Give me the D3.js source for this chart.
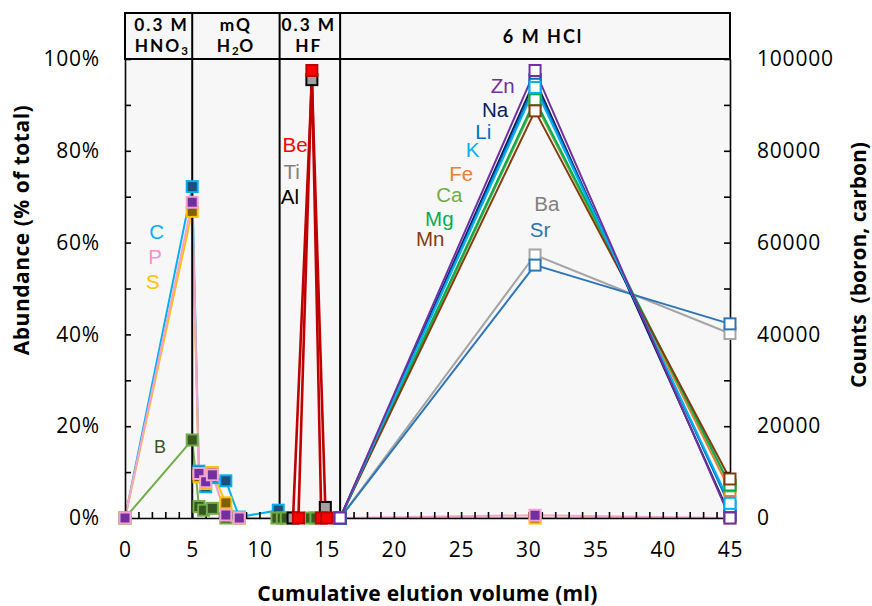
<!DOCTYPE html>
<html><head><meta charset="utf-8">
<script src="https://cdn.jsdelivr.net/npm/d3@7"></script>
<style>body{margin:0;background:#fff}svg{display:block}</style>
</head><body><svg id="c" width="872" height="606"></svg>
<script>
// ---------- data ----------
const xTickValues = [0,5,10,15,20,25,30,35,40,45];
const leftTickValues = [0,20,40,60,80,100];
const rightTickValues = [0,20000,40000,60000,80000,100000];
const fractionBounds = [0,5,11.5,16,45];

// carbon & boron on the counts axis
const carbonVol = [0,5,5.5,6,6.5,7.5,8.5,11.4];
const carbonCounts = [0,72200,10200,6800,8800,8100,200,1700];
const boronVol = [0,5,5.5,5.85,6.5,7.5,8.5,11.3,11.7,12.0,13.8,14.2];
const boronCounts = [0,17000,2500,1700,2100,0,0,0,0,0,0,0];
// % of total
const phosVol = [0,5,5.5,6,6.5,7.5,8.5,16,30.5,45];
const phosPct = [0,68.8,9.7,7.9,9.4,0.65,0,0,0.6,0];
const sulfVol = [0,5,5.5,6,6.5,7.5,8.5,16,30.5,45];
const sulfPct = [0,66.8,9.0,7.5,9.9,3.3,0,0,0,0];
const tiVol = [12.5,13.9,14.9];
const tiPct = [0,95.5,2.3];
const beVol = [12.9,13.9,14.6,15.0];
const bePct = [0,97.5,0,0];
const hclVol = [16,30.5,45];
const baPct = [0,57.3,40.2];
const srPct = [0,55.1,42.3];
const fePct = [0,91.0,6.0];
const caPct = [0,90.5,7.0];
const mgPct = [0,91.1,7.2];
const mnPct = [0,88.7,8.5];
const naPct = [0,95.5,0.5];
const liPct = [0,94.5,2.5];
const kPct  = [0,93.8,3.2];
const znPct = [0,97.5,0];

// element labels (placed in data units)
const labelNames = ["C","P","S","B","Be","Ti","Al","Zn","Na","Li","K","Fe","Ca","Mg","Mn","Ba","Sr"];
const labelVol = [2.36,2.23,2.08,2.6,12.65,12.4,12.27,28.1,27.52,26.65,25.86,25.0,24.12,23.38,22.7,31.37,30.87];
const labelPct = [62.4,57.0,51.6,15.5,81.3,75.4,70.0,94.1,88.9,84.2,80.2,75.1,70.4,65.3,60.9,68.6,62.9];

// ---------- styles ----------
const style = {
  C:{line:"#00b0f0",fill:"#1f4e79",label:"#00b0f0"},
  B:{line:"#70ad47",fill:"#375623",label:"#375623"},
  P:{line:"#f7a1d1",fill:"#7030a0",label:"#f78fc8"},
  S:{line:"#ffc000",fill:"#7f6000",label:"#ffc000"},
  Ti:{line:"#c00000",fill:"#a0a0a0",stroke:"#000000",label:"#808080"},
  Be:{line:"#c00000",fill:"#ff0000",stroke:"#c00000",label:"#ff0000"},
  Al:{label:"#000000"},
  Ba:{line:"#a5a5a5",fill:"#fff",label:"#808080"},
  Sr:{line:"#2e75b6",fill:"#fff",label:"#2e75b6"},
  Fe:{line:"#ed7d31",fill:"#fff",label:"#ed7d31"},
  Ca:{line:"#70ad47",fill:"#fff",label:"#70ad47"},
  Mg:{line:"#00b050",fill:"#fff",label:"#00b050"},
  Mn:{line:"#843c0c",fill:"#fff",label:"#843c0c"},
  Na:{line:"#002060",fill:"#fff",label:"#002060"},
  Li:{line:"#0070c0",fill:"#fff",label:"#0070c0"},
  K:{line:"#00b0f0",fill:"#fff",label:"#00b0f0"},
  Zn:{line:"#7030a0",fill:"#fff",label:"#7030a0"}
};

// ---------- layout ----------
const svg = d3.select("#c");
const L=125,R=730,T=59,B=518,HT=13;
const x = d3.scaleLinear().domain([0,45]).range([L,R]);
const yL = d3.scaleLinear().domain([0,100]).range([B,T]);
const yR = d3.scaleLinear().domain([0,100000]).range([B,T]);
const axisFont = "'Open Sans', sans-serif";
const hdrFont = "Lato, 'Open Sans', sans-serif";

svg.append("rect").attr("x",L).attr("y",HT).attr("width",R-L).attr("height",B-HT).attr("fill","#f7f7f7");

// series
const series = [
  {k:"C", vol:carbonVol, val:carbonCounts, y:yR},
  {k:"S", vol:sulfVol, val:sulfPct, y:yL},
  {k:"B", vol:boronVol, val:boronCounts, y:yR},
  {k:"P", vol:phosVol, val:phosPct, y:yL},
  {k:"Ba", vol:hclVol, val:baPct, y:yL},
  {k:"Sr", vol:hclVol, val:srPct, y:yL},
  {k:"Fe", vol:hclVol, val:fePct, y:yL},
  {k:"Ca", vol:hclVol, val:caPct, y:yL},
  {k:"Mg", vol:hclVol, val:mgPct, y:yL},
  {k:"Mn", vol:hclVol, val:mnPct, y:yL},
  {k:"Na", vol:hclVol, val:naPct, y:yL},
  {k:"Li", vol:hclVol, val:liPct, y:yL},
  {k:"K", vol:hclVol, val:kPct, y:yL},
  {k:"Zn", vol:hclVol, val:znPct, y:yL},
  {k:"Ti", vol:tiVol, val:tiPct, y:yL},
  {k:"Be", vol:beVol, val:bePct, y:yL}
];

const gLines = svg.append("g");
const gMarks = svg.append("g");
series.forEach(s=>{
  const pts = s.vol.map((v,i)=>[v,s.val[i]]);
  const st = style[s.k];
  gLines.append("path").datum(pts)
    .attr("d", d3.line().x(d=>x(d[0])).y(d=>s.y(d[1])))
    .attr("fill","none").attr("stroke",st.line).attr("stroke-width",s.k==="Be"||s.k==="Ti"?2.6:2);
});

// axes
const gx = svg.append("g").attr("transform",`translate(0,${B})`)
  .call(d3.axisBottom(x).tickValues(d3.range(0,46,1)).tickSize(-6).tickSizeOuter(0).tickPadding(24)
    .tickFormat(d=> xTickValues.includes(d)? d : ""));
const gl = svg.append("g").attr("transform",`translate(${L},0)`)
  .call(d3.axisLeft(yL).tickValues(d3.range(0,101,10)).tickSize(-6).tickSizeOuter(0).tickPadding(25)
    .tickFormat(d=> leftTickValues.includes(d)? d+"%" : ""));
const gr = svg.append("g").attr("transform",`translate(${R},0)`)
  .call(d3.axisRight(yR).tickValues(d3.range(0,100001,10000)).tickSize(-6).tickSizeOuter(0).tickPadding(27)
    .tickFormat(d=> rightTickValues.includes(d)? d : ""));
[gx,gl,gr].forEach(g=>{
  g.selectAll("path.domain").attr("stroke","#000").attr("stroke-width",1.6);
  g.selectAll(".tick line").attr("stroke","#000").attr("stroke-width",1.6);
  g.selectAll("text").attr("font-family",axisFont).attr("font-size",21).attr("fill","#000").attr("letter-spacing",0.8);
});

// header & fraction separators
svg.append("rect").attr("x",L).attr("y",HT).attr("width",R-L).attr("height",T-HT)
  .attr("fill","#f7f7f7").attr("stroke","#000").attr("stroke-width",2);
fractionBounds.slice(1,4).forEach(v=>{
  svg.append("line").attr("x1",x(v)).attr("x2",x(v)).attr("y1",HT).attr("y2",B)
    .attr("stroke","#000").attr("stroke-width",2);
});
svg.append("line").attr("x1",L).attr("x2",R).attr("y1",T).attr("y2",T).attr("stroke","#000").attr("stroke-width",2);

// markers on top
series.forEach(s=>{
  const st = style[s.k];
  s.vol.forEach((v,i)=>{
    gMarks.append("rect").attr("x",x(v)-5.5).attr("y",s.y(s.val[i])-5.5).attr("width",11).attr("height",11)
      .attr("fill",st.fill).attr("stroke",st.stroke||st.line).attr("stroke-width",2);
  });
});
gMarks.raise();

// header texts
const hdr = svg.append("g").attr("font-family",hdrFont).attr("font-weight","bold").attr("font-size",17.3)
  .attr("text-anchor","middle").attr("fill","#000").attr("letter-spacing",2);
function mid(a,b){return (x(a)+x(b))/2;}
function line1(cx, s){ hdr.append("text").attr("x",cx).attr("y",30.5).text(s); }
function line2(cx, parts){
  const t = hdr.append("text").attr("x",cx).attr("y",52);
  parts.forEach((p,i)=>{
    const sp = t.append("tspan");
    if(p.sub){ sp.attr("font-size",11.5).attr("dy",2.5).attr("letter-spacing",0.5); }
    else if(i>0){ sp.attr("dy",-2.5); }
    sp.text(p.t);
  });
}
line1(mid(0,5)+3, "0.3 M");
line2(mid(0,5)+3, [{t:"HNO"},{t:"3",sub:true}]);
line1(mid(5,11.5), "mQ");
line2(mid(5,11.5), [{t:"H"},{t:"2",sub:true},{t:"O"}]);
line1(mid(11.5,16)-1, "0.3 M");
line2(mid(11.5,16)-1, [{t:"HF"}]);
hdr.append("text").attr("x",mid(16,45)+8).attr("y",43).attr("font-size",18).text("6 M HCl");

// element labels
const gLab = svg.append("g").attr("font-family","'Liberation Sans', Arial, sans-serif").attr("text-anchor","middle");
labelNames.forEach((n,i)=>{
  gLab.append("text").attr("x",x(labelVol[i])).attr("y",yL(labelPct[i]))
    .attr("dy","0.36em").attr("font-size", n==="B"?18:20.5).attr("fill",style[n].label).text(n);
});

// axis titles
svg.append("text").attr("transform",`translate(${L+ (R-L)/2},${601}) `)
  .attr("text-anchor","middle").attr("font-family",axisFont).attr("font-weight","bold").attr("font-size",21)
  .attr("letter-spacing",0.3).text("Cumulative elution volume (ml)");
svg.append("text").attr("transform",`translate(29,${230}) rotate(-90)`)
  .attr("text-anchor","middle").attr("font-family",axisFont).attr("font-weight","bold").attr("font-size",21)
  .attr("letter-spacing",0.5).text("Abundance (% of total)");
svg.append("text").attr("transform",`translate(866,${265}) rotate(-90)`)
  .attr("text-anchor","middle").attr("font-family",axisFont).attr("font-weight","bold").attr("font-size",21)
  .attr("xml:space","preserve").style("white-space","pre").text("Counts  (boron, carbon)");
</script></body></html>
